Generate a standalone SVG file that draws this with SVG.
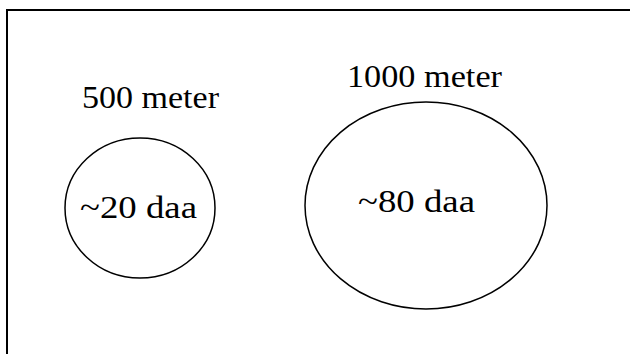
<svg xmlns="http://www.w3.org/2000/svg" width="630" height="354" viewBox="0 0 630 354">
<style>
.t{font-family:"Liberation Serif","Times New Roman",serif;font-size:31px;fill:#000}
.c{fill:none;stroke:#000;stroke-width:1.5}
</style>
<rect width="630" height="354" fill="#fff"/>
<g id="frame"><path d="M7 354V10H630" fill="none" stroke="#000" stroke-width="2"/></g>
<g id="small">
<text class="t" x="82" y="108" textLength="137" lengthAdjust="spacingAndGlyphs">500 meter</text>
<ellipse class="c" cx="140" cy="208" rx="75" ry="70"/>
<text class="t" x="80" y="218" textLength="117" lengthAdjust="spacingAndGlyphs">~20 daa</text>
</g>
<g id="large">
<text class="t" x="347" y="87" textLength="155" lengthAdjust="spacingAndGlyphs">1000 meter</text>
<ellipse class="c" cx="426" cy="205.5" rx="121" ry="103.5"/>
<text class="t" x="358" y="212" textLength="117" lengthAdjust="spacingAndGlyphs">~80 daa</text>
</g>
<g id="connectors"/>
</svg>
